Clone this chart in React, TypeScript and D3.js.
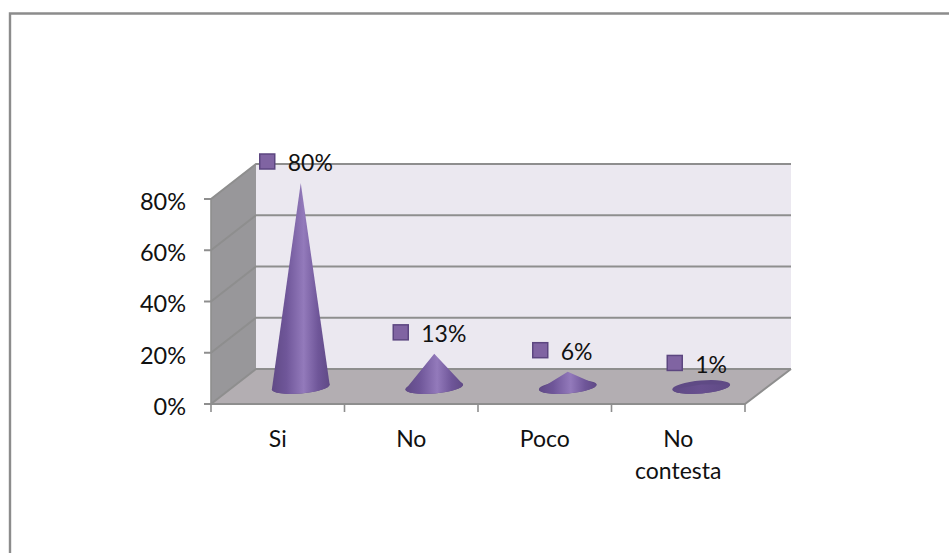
import React from "react";
import * as d3 from "d3";

const categories = ["Si", "No", "Poco", "No contesta"];
const seriesValues = [80, 13, 6, 1];
const valueLabels = ["80%", "13%", "6%", "1%"];
const yTicks = [0, 20, 40, 60, 80];

const W = 949, H = 553;
const FONT = "Lato, 'Open Sans', sans-serif";
const front = { x0: 211, x1: 745, y0: 404 };
const depth = { dx: 45, dy: -35 };
const baseY = 387;
const rx = 29, ry = 6.5, tilt = 5;
const markerDx = [-34, -34, -28, -27];

const x = d3.scaleBand<string>().domain(categories).range([front.x0, front.x1]);
const y = d3.scaleLinear().domain([0, 80]).range([front.y0, 199]);
const h = d3.scaleLinear().domain([0, 80]).range([0, 204]);

const lineCol = "#8e8e8e";

export default function App() {
  const rad = (tilt * Math.PI) / 180;
  const y80 = y(80);
  const pts = (a: number[][]) => a.map(p => p.join(",")).join(" ");
  const ticksX = [front.x0, ...categories.map(c => (x(c) as number) + x.bandwidth())];
  return (
    <svg width={W} height={H} style={{ position: "absolute", left: 0, top: 0 }} fontFamily={FONT}>
      <defs>
        <linearGradient id="cone" x1="0" x2="1" y1="0" y2="0">
          <stop offset="0" stopColor="#604a86" />
          <stop offset="0.25" stopColor="#6f5699" />
          <stop offset="0.55" stopColor="#937abb" />
          <stop offset="0.8" stopColor="#6f5699" />
          <stop offset="1" stopColor="#604a86" />
        </linearGradient>
        <linearGradient id="coneLow" x1="0" x2="1" y1="0" y2="0">
          <stop offset="0" stopColor="#5f4a85" />
          <stop offset="0.5" stopColor="#68508f" />
          <stop offset="1" stopColor="#5f4a85" />
        </linearGradient>
      </defs>
      <rect width={W} height={H} fill="#fff" />
      <path d={`M10,${H}V13.5H${W}`} fill="none" stroke="#8c8c8c" strokeWidth={2.4} />

      {/* walls */}
      <polygon
        points={pts([[front.x0, y(0)], [front.x0, y80], [front.x0 + depth.dx, y80 + depth.dy], [front.x0 + depth.dx, y(0) + depth.dy]])}
        fill="#98979a"
      />
      <polygon
        points={pts([[front.x0 + depth.dx, y(0) + depth.dy], [front.x0 + depth.dx, y80 + depth.dy], [front.x1 + depth.dx + 1, y80 + depth.dy], [front.x1 + depth.dx + 1, y(0) + depth.dy]])}
        fill="#ebe8f0"
      />
      <polygon
        points={pts([[front.x0, y(0)], [front.x0 + depth.dx, y(0) + depth.dy], [front.x1 + depth.dx + 1, y(0) + depth.dy], [front.x1, y(0)]])}
        fill="#b3aeb2"
      />

      {/* gridlines */}
      {yTicks.map(t => (
        <path
          key={t}
          d={`M${front.x0},${y(t)}L${front.x0 + depth.dx},${y(t) + depth.dy}H${front.x1 + depth.dx + 1}`}
          fill="none"
          stroke={lineCol}
          strokeWidth={2}
        />
      ))}
      <path d={`M${front.x0},${y(0)}H${front.x1}L${front.x1 + depth.dx + 1},${y(0) + depth.dy}`} fill="none" stroke={lineCol} strokeWidth={2} />
      <line x1={front.x0} x2={front.x0} y1={y80} y2={y(0)} stroke={lineCol} strokeWidth={1.6} />

      {/* ticks */}
      {yTicks.map(t => (
        <g key={t}>
          <line x1={front.x0 - 7} x2={front.x0} y1={y(t)} y2={y(t)} stroke={lineCol} strokeWidth={2} />
          <text x={186} y={y(t) + 2.5} dy="0.36em" textAnchor="end" fontSize={23.5} fill="#111">{t}%</text>
        </g>
      ))}
      {ticksX.map((t, i) => (
        <line key={i} x1={t} x2={t} y1={y(0)} y2={y(0) + 8} stroke={lineCol} strokeWidth={1.6} />
      ))}

      {/* category labels */}
      {categories.map(c => {
        const cx = (x(c) as number) + x.bandwidth() / 2;
        const words = c === "No contesta" ? c.split(" ") : [c];
        return (
          <text key={c} x={cx} y={447} textAnchor="middle" fontSize={23} fill="#111">
            {words.map((w, i) => (
              <tspan key={w} x={cx} dy={i === 0 ? 0 : 32}>{w}</tspan>
            ))}
          </text>
        );
      })}

      {/* cones */}
      {categories.map((c, i) => {
        const cx = (x(c) as number) + x.bandwidth() / 2 + 23;
        const apex = baseY - h(seriesValues[i]);
        const lx = cx - rx * Math.cos(rad), ly = baseY + rx * Math.sin(rad);
        const rxx = cx + rx * Math.cos(rad), ryy = baseY - rx * Math.sin(rad);
        const mx = cx + markerDx[i];
        const my = apex - 22;
        return (
          <g key={c}>
            <ellipse cx={cx} cy={baseY} rx={rx} ry={ry} transform={`rotate(${-tilt} ${cx} ${baseY})`} fill="#5f4a85" />
            <path
              d={`M${lx},${ly}L${cx},${apex}L${rxx},${ryy}A${rx},${ry} ${-tilt} 0 1 ${lx},${ly}Z`}
              fill={seriesValues[i] < 3 ? "url(#coneLow)" : "url(#cone)"}
            />
            <rect x={mx - 7} y={my - 7} width={15} height={15} fill="#8064a2" stroke="#5c4680" strokeWidth={1.5} />
            <text x={mx + 21} y={my + 2} dy="0.36em" fontSize={23} fill="#111">{valueLabels[i]}</text>
          </g>
        );
      })}
    </svg>
  );
}
